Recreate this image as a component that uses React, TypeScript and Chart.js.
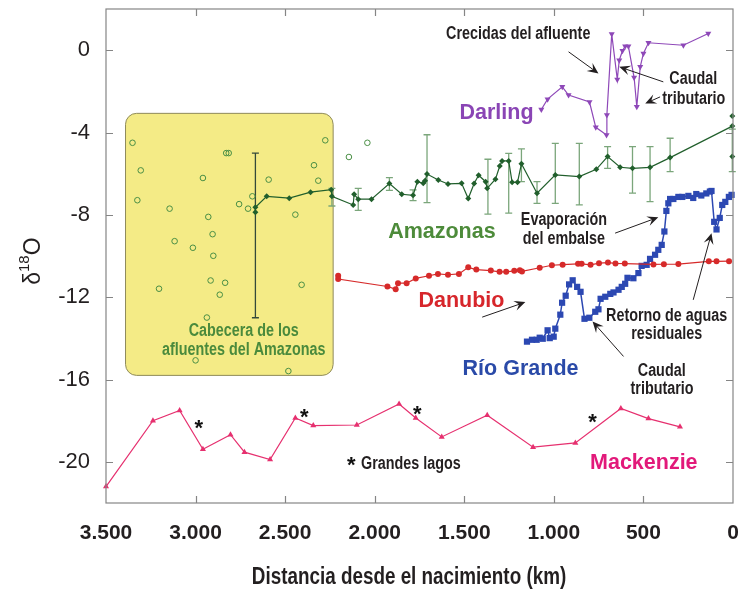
import React, { useEffect, useRef } from "react";
import { Chart, registerables } from "chart.js";

Chart.register(...registerables);

const FONT = "'Liberation Sans', Arial, sans-serif";
const NARROW_SCALE = 0.82;

// ---- axes ----
const xTickValues = [0, 500, 1000, 1500, 2000, 2500, 3000, 3500];
const xTickLabels = ["0", "500", "1.000", "1.500", "2.000", "2.500", "3.000", "3.500"];
const yTickValues = [-20, -16, -12, -8, -4, 0];
const yTickLabels = ["-20", "-16", "-12", "-8", "-4", "0"];

// ---- series: [distance km, d18O] ----
const amazonasHeadwaters: [number, number][] = [
  [3352, -4.5], [3306, -5.84], [3325, -7.29], [3145, -7.7], [3117, -9.28], [3204, -11.59],
  [3015, -9.6], [2959, -6.21], [2929, -8.1], [2905, -8.94], [2901, -9.99], [2916, -11.19],
  [2835, -11.3], [2865, -11.88], [2829, -5.0], [2815, -5.0], [2757, -7.48], [2707, -7.7],
  [2683, -7.1], [2592, -6.29], [2443, -7.99], [2408, -11.4], [2339, -5.59], [2315, -6.34],
  [2276, -4.38], [2144, -5.19], [2041, -4.5], [2937, -12.99], [3000, -15.07], [2482, -15.59],
];

const amazonas: [number, number][] = [
  [2666, -7.87], [2666, -7.63], [2603, -7.1], [2477, -7.19], [2358, -6.9], [2243, -6.78],
  [2239, -7.1], [2120, -7.52], [2115, -7.0], [2092, -7.24], [2018, -7.24], [1918, -6.48],
  [1849, -7.0], [1786, -7.05], [1762, -6.39], [1729, -6.47], [1719, -6.35], [1708, -6.02],
  [1645, -6.31], [1591, -6.5], [1515, -6.47], [1478, -7.21], [1445, -6.48], [1420, -6.08],
  [1381, -6.39], [1372, -6.71], [1326, -6.27], [1302, -5.63], [1289, -5.38], [1252, -5.38],
  [1233, -6.42], [1203, -6.42], [1181, -5.52], [1094, -6.95], [992, -6.06], [858, -6.14],
  [763, -5.79], [700, -5.17], [630, -5.69], [561, -5.74], [463, -5.69], [351, -5.22], [4, -3.69],
];

const amazonasMouth: [number, number][] = [[4, -3.2], [4, -5.17]];

// [km, upper, lower]
const amazonasErrors: [number, number, number][] = [
  [2239, -6.71, -7.57], [2092, -6.71, -7.78], [1918, -6.19, -6.81], [1786, -6.79, -7.31],
  [1708, -4.11, -7.41], [1368, -5.3, -7.97], [1252, -5.01, -7.92], [1181, -4.8, -6.39],
  [1094, -6.39, -7.44], [992, -4.53, -7.44], [858, -4.53, -7.52], [700, -4.69, -5.74],
  [561, -4.69, -6.95], [463, -4.69, -7.36], [351, -4.28, -5.9], [4, -3.84, -5.9],
];
const headwaterError: [number, number, number] = [2666, -5.0, -13.0];

const darling: [number, number][] = [
  [1070, -2.88], [1035, -2.38], [953, -1.78], [918, -2.18], [801, -2.52], [766, -3.75],
  [706, -4.12], [704, -3.15], [677, 0.78], [646, -1.42], [635, -0.49], [617, -0.03],
  [602, 0.19], [584, 0.19], [552, -1.33], [537, -2.75], [518, -0.81], [500, -0.16],
  [472, 0.36], [277, 0.24], [138, 0.81],
];

const danubio: [number, number][] = [
  [2204, -10.96], [2204, -11.12], [1929, -11.48], [1883, -11.61], [1870, -11.32], [1822, -11.32],
  [1771, -11.09], [1697, -10.96], [1647, -10.87], [1591, -10.91], [1530, -10.87], [1478, -10.55],
  [1433, -10.66], [1352, -10.71], [1303, -10.77], [1266, -10.77], [1221, -10.72], [1190, -10.69],
  [1178, -10.75], [1079, -10.57], [1011, -10.45], [951, -10.42], [865, -10.38], [845, -10.38],
  [795, -10.43], [748, -10.35], [698, -10.32], [656, -10.36], [604, -10.37], [444, -10.41],
  [386, -10.4], [305, -10.39], [135, -10.26], [92, -10.26], [22, -10.25],
];

const rioGrande: [number, number][] = [
  [1150, -14.16], [1122, -14.07], [1096, -14.07], [1079, -13.97], [1062, -14.02], [1035, -13.61],
  [1023, -13.99], [1001, -13.92], [992, -13.53], [964, -12.85], [954, -12.27], [934, -11.93],
  [915, -11.38], [895, -11.18], [870, -11.5], [851, -11.74], [829, -13.05], [802, -13.0],
  [769, -12.71], [751, -12.59], [739, -12.08], [713, -11.98], [685, -11.84], [667, -11.77],
  [639, -11.64], [621, -11.5], [602, -11.35], [589, -11.06], [556, -11.08], [528, -10.83],
  [510, -10.48], [482, -10.43], [463, -10.14], [435, -9.94], [417, -9.7], [398, -9.46],
  [383, -8.81], [372, -7.81], [361, -7.44], [351, -7.23], [333, -7.23], [305, -7.13],
  [283, -7.13], [249, -7.08], [222, -7.18], [205, -6.99], [177, -7.06], [149, -6.96],
  [129, -6.87], [120, -6.84], [105, -8.34], [92, -8.71], [74, -8.15], [60, -7.52],
  [43, -7.37], [23, -7.13], [8, -7.03],
];

const mackenzie: [number, number][] = [
  [3500, -21.2], [3238, -18.0], [3089, -17.5], [2959, -19.39], [2805, -18.68], [2727, -19.53],
  [2584, -19.89], [2443, -17.87], [2343, -18.24], [2100, -18.21], [1864, -17.19], [1771, -17.87],
  [1626, -18.79], [1372, -17.74], [1116, -19.29], [880, -19.08], [626, -17.41], [472, -17.9],
  [296, -18.3],
];

// Lake markers (asterisks) [km, value]
const lakeMarks: [number, number][] = [[2982, -18.11], [2393, -17.59], [1762, -17.43], [784, -17.82]];

// Headwater box extent [kmLeft, kmRight, top, bottom]
const headwaterBox: [number, number, number, number] = [3391, 2232, -3.07, -15.8];

type Note = { text: string; km: number; v: number; style: string; align?: CanvasTextAlign };
const notes: Note[] = [
  { text: "Crecidas del afluente", km: 1199, v: 0.78, style: "small" },
  { text: "Caudal", km: 222, v: -1.41, style: "small" },
  { text: "tributario", km: 219, v: -2.38, style: "small" },
  { text: "Darling", km: 1320, v: -3.07, style: "darling" },
  { text: "Amazonas", km: 1625, v: -8.84, style: "amazonas" },
  { text: "Evaporación", km: 944, v: -8.25, style: "small" },
  { text: "del embalse", km: 944, v: -9.18, style: "small" },
  { text: "Danubio", km: 1516, v: -12.21, style: "danubio" },
  { text: "Retorno de aguas", km: 370, v: -12.9, style: "small" },
  { text: "residuales", km: 370, v: -13.82, style: "small" },
  { text: "Río Grande", km: 1186, v: -15.49, style: "riogrande" },
  { text: "Caudal", km: 398, v: -15.61, style: "small" },
  { text: "tributario", km: 396, v: -16.46, style: "small" },
  { text: "Cabecera de los", km: 2731, v: -13.63, style: "headwater" },
  { text: "afluentes del Amazonas", km: 2731, v: -14.59, style: "headwater" },
  { text: "Mackenzie", km: 498, v: -20.08, style: "mackenzie" },
  { text: "Grandes lagos", km: 2076, v: -20.13, style: "small", align: "left" },
];
const lakeLegendMark: [number, number] = [2131, -19.89];

// arrows [fromKm, fromV, toKm, toV]
const arrows: [number, number, number, number][] = [
  [918, -0.08, 751, -1.13],
  [389, -1.54, 635, -0.81],
  [407, -2.27, 490, -2.59],
  [658, -8.89, 417, -8.12],
  [1400, -12.97, 1159, -12.24],
  [222, -12.13, 120, -8.89],
  [611, -14.88, 784, -13.18],
];

const noteStyles: Record<string, { size: number; color: string; narrow: boolean }> = {
  small: { size: 17.5, color: "#231f20", narrow: true },
  headwater: { size: 17.5, color: "#4a8a3c", narrow: true },
  darling: { size: 21.5, color: "#8a45b5", narrow: false },
  amazonas: { size: 21.5, color: "#4d8b3a", narrow: false },
  danubio: { size: 21.5, color: "#d7262b", narrow: false },
  riogrande: { size: 21.5, color: "#2a4aa8", narrow: false },
  mackenzie: { size: 21.5, color: "#e2197a", narrow: false },
};

const toXY = (arr: [number, number][]) => arr.map(([x, y]) => ({ x, y }));

function drawText(
  ctx: CanvasRenderingContext2D,
  text: string,
  x: number,
  y: number,
  size: number,
  color: string,
  align: CanvasTextAlign,
  sx: number
) {
  ctx.save();
  ctx.translate(x, y);
  ctx.scale(sx, 1);
  ctx.font = `bold ${size}px ${FONT}`;
  ctx.fillStyle = color;
  ctx.textAlign = align;
  ctx.textBaseline = "middle";
  ctx.fillText(text, 0, 0);
  ctx.restore();
}

function drawArrow(ctx: CanvasRenderingContext2D, x1: number, y1: number, x2: number, y2: number) {
  const a = Math.atan2(y2 - y1, x2 - x1);
  const L = 11;
  const W = 5;
  ctx.beginPath();
  ctx.moveTo(x1, y1);
  ctx.lineTo(x2 - Math.cos(a) * 6, y2 - Math.sin(a) * 6);
  ctx.stroke();
  ctx.beginPath();
  ctx.moveTo(x2, y2);
  ctx.lineTo(x2 - L * Math.cos(a) + W * Math.sin(a), y2 - L * Math.sin(a) - W * Math.cos(a));
  ctx.lineTo(x2 - 0.6 * L * Math.cos(a), y2 - 0.6 * L * Math.sin(a));
  ctx.lineTo(x2 - L * Math.cos(a) - W * Math.sin(a), y2 - L * Math.sin(a) + W * Math.cos(a));
  ctx.closePath();
  ctx.fill();
}

export default function App() {
  const ref = useRef<HTMLCanvasElement>(null);

  useEffect(() => {
    const canvas = ref.current;
    if (!canvas) return;

    const overlay = {
      id: "overlay",
      beforeDatasetsDraw(chart: any) {
        const { ctx } = chart;
        const xs = chart.scales.x;
        const ys = chart.scales.y;
        const [k1, k2, t, b] = headwaterBox;
        const x1 = xs.getPixelForValue(k1);
        const x2 = xs.getPixelForValue(k2);
        const y1 = ys.getPixelForValue(t);
        const y2 = ys.getPixelForValue(b);
        ctx.save();
        ctx.beginPath();
        ctx.roundRect(x1, y1, x2 - x1, y2 - y1, 11);
        ctx.fillStyle = "#f4eb86";
        ctx.fill();
        ctx.lineWidth = 1;
        ctx.strokeStyle = "#8f8b5c";
        ctx.stroke();
        const bar = (km: number, hi: number, lo: number, color: string) => {
          const px = xs.getPixelForValue(km);
          const py1 = ys.getPixelForValue(hi);
          const py2 = ys.getPixelForValue(lo);
          ctx.strokeStyle = color;
          ctx.lineWidth = 1.3;
          ctx.beginPath();
          ctx.moveTo(px, py1);
          ctx.lineTo(px, py2);
          ctx.moveTo(px - 3.5, py1);
          ctx.lineTo(px + 3.5, py1);
          ctx.moveTo(px - 3.5, py2);
          ctx.lineTo(px + 3.5, py2);
          ctx.stroke();
        };
        amazonasErrors.forEach(([km, hi, lo]) => bar(km, hi, lo, "#7ba67b"));
        bar(headwaterError[0], headwaterError[1], headwaterError[2], "#34493a");
        ctx.restore();
      },
      afterDatasetsDraw(chart: any) {
        const { ctx, chartArea } = chart;
        const xs = chart.scales.x;
        const ys = chart.scales.y;
        const { left, right, top, bottom } = chartArea;
        ctx.save();
        ctx.strokeStyle = "#858585";
        ctx.lineWidth = 1.2;
        ctx.strokeRect(left, top, right - left, bottom - top);
        ctx.beginPath();
        xTickValues.forEach((v) => {
          const px = Math.round(xs.getPixelForValue(v)) + 0.5;
          if (px < left + 2 || px > right - 2) return;
          ctx.moveTo(px, top);
          ctx.lineTo(px, top + 7);
          ctx.moveTo(px, bottom);
          ctx.lineTo(px, bottom - 7);
        });
        yTickValues.forEach((v) => {
          const py = Math.round(ys.getPixelForValue(v)) + 0.5;
          ctx.moveTo(left, py);
          ctx.lineTo(left + 7, py);
          ctx.moveTo(right, py);
          ctx.lineTo(right - 7, py);
        });
        ctx.stroke();

        ctx.strokeStyle = "#231f20";
        ctx.fillStyle = "#231f20";
        ctx.lineWidth = 1;
        arrows.forEach(([a, b, c, d]) =>
          drawArrow(ctx, xs.getPixelForValue(a), ys.getPixelForValue(b), xs.getPixelForValue(c), ys.getPixelForValue(d))
        );

        notes.forEach((n) => {
          const st = noteStyles[n.style];
          drawText(
            ctx,
            n.text,
            xs.getPixelForValue(n.km),
            ys.getPixelForValue(n.v),
            st.size,
            st.color,
            n.align || "center",
            st.narrow ? NARROW_SCALE : 1
          );
        });

        ctx.font = `bold 22px ${FONT}`;
        ctx.fillStyle = "#111";
        ctx.textAlign = "center";
        ctx.textBaseline = "alphabetic";
        [...lakeMarks, lakeLegendMark].forEach(([km, v]) => {
          ctx.fillText("*", xs.getPixelForValue(km), ys.getPixelForValue(v) + 12);
        });

        // y title δ18O
        ctx.save();
        ctx.translate(left - 66.5, ys.getPixelForValue(-11.4));
        ctx.rotate(-Math.PI / 2);
        ctx.fillStyle = "#231f20";
        ctx.textAlign = "left";
        ctx.textBaseline = "alphabetic";
        ctx.font = `23px ${FONT}`;
        ctx.fillText("δ", 0, 0);
        let w = ctx.measureText("δ").width;
        ctx.font = `15px ${FONT}`;
        ctx.fillText("18", w, -11);
        w += ctx.measureText("18").width;
        ctx.font = `23px ${FONT}`;
        ctx.fillText("O", w, 0);
        ctx.restore();

        // x title
        drawText(ctx, "Distancia desde el nacimiento (km)", left + 303, bottom + 75, 23, "#231f20", "center", NARROW_SCALE);
        ctx.restore();
      },
    };

    const chart = new Chart(canvas, {
      type: "scatter",
      data: {
        datasets: [
          {
            label: "Amazonas cabecera",
            data: toXY(amazonasHeadwaters),
            showLine: false,
            pointStyle: "circle",
            pointRadius: 2.8,
            pointBorderWidth: 1,
            pointBorderColor: "#4a8f45",
            pointBackgroundColor: "rgba(0,0,0,0)",
          },
          {
            label: "Amazonas",
            data: toXY(amazonas),
            showLine: true,
            borderColor: "#215f2c",
            borderWidth: 1.2,
            pointStyle: "rectRot",
            pointRadius: 3,
            pointBorderWidth: 0,
            pointBackgroundColor: "#215f2c",
            clip: false,
          },
          {
            label: "Amazonas desembocadura",
            data: toXY(amazonasMouth),
            showLine: false,
            pointStyle: "rectRot",
            pointRadius: 3,
            pointBorderWidth: 0,
            pointBackgroundColor: "#215f2c",
            clip: false,
          },
          {
            label: "Darling",
            data: toXY(darling),
            showLine: true,
            borderColor: "#8e48b8",
            borderWidth: 1.2,
            pointStyle: "triangle",
            rotation: 180,
            pointRadius: 3.5,
            pointBorderWidth: 0,
            pointBackgroundColor: "#8e48b8",
          },
          {
            label: "Danubio",
            data: toXY(danubio),
            showLine: true,
            borderColor: "#d62a2a",
            borderWidth: 1.2,
            pointStyle: "circle",
            pointRadius: 3,
            pointBorderWidth: 0,
            pointBackgroundColor: "#d62a2a",
            clip: false,
          },
          {
            label: "Río Grande",
            data: toXY(rioGrande),
            showLine: true,
            borderColor: "#2c48b2",
            borderWidth: 1.5,
            pointStyle: "rect",
            pointRadius: 4.4,
            pointBorderWidth: 0,
            pointBackgroundColor: "#2c48b2",
            clip: false,
          },
          {
            label: "Mackenzie",
            data: toXY(mackenzie),
            showLine: true,
            borderColor: "#e6306f",
            borderWidth: 1.2,
            pointStyle: "triangle",
            pointRadius: 3.5,
            pointBorderWidth: 0,
            pointBackgroundColor: "#e6306f",
            clip: false,
          },
        ],
      },
      options: {
        animation: false,
        responsive: false,
        maintainAspectRatio: false,
        events: [],
        layout: { padding: { top: 9, right: 3, left: 0, bottom: 0 } },
        plugins: { legend: { display: false }, tooltip: { enabled: false } },
        scales: {
          x: {
            type: "linear",
            reverse: true,
            min: 0,
            max: 3500,
            grid: { display: false, drawTicks: false },
            border: { display: false },
            afterBuildTicks: (ax: any) => {
              ax.ticks = xTickValues.map((v) => ({ value: v }));
            },
            afterFit: (ax: any) => {
              ax.height = 88;
              ax.paddingLeft = 0;
              ax.paddingRight = 0;
            },
            ticks: {
              autoSkip: false,
              maxRotation: 0,
              padding: 18,
              color: "#231f20",
              font: { family: FONT, size: 21, weight: "bold" },
              callback: (v: any) => {
                const i = xTickValues.indexOf(Number(v));
                return i >= 0 ? xTickLabels[i] : "";
              },
            },
          },
          y: {
            type: "linear",
            min: -22,
            max: 2,
            grid: { display: false, drawTicks: false },
            border: { display: false },
            afterBuildTicks: (ax: any) => {
              ax.ticks = yTickValues.map((v) => ({ value: v }));
            },
            afterFit: (ax: any) => {
              ax.width = 106;
              ax.paddingTop = 0;
              ax.paddingBottom = 0;
            },
            ticks: {
              autoSkip: false,
              padding: 16,
              color: "#231f20",
              font: { family: FONT, size: 22 },
              callback: (v: any) => {
                const i = yTickValues.indexOf(Number(v));
                return i >= 0 ? yTickLabels[i] : "";
              },
            },
          },
        },
      },
      plugins: [overlay],
    } as any);

    return () => chart.destroy();
  }, []);

  return (
    <div style={{ position: "absolute", left: 0, top: 0, width: 738, height: 591, background: "#fff" }}>
      <canvas ref={ref} width={738} height={591} style={{ display: "block" }} />
    </div>
  );
}
